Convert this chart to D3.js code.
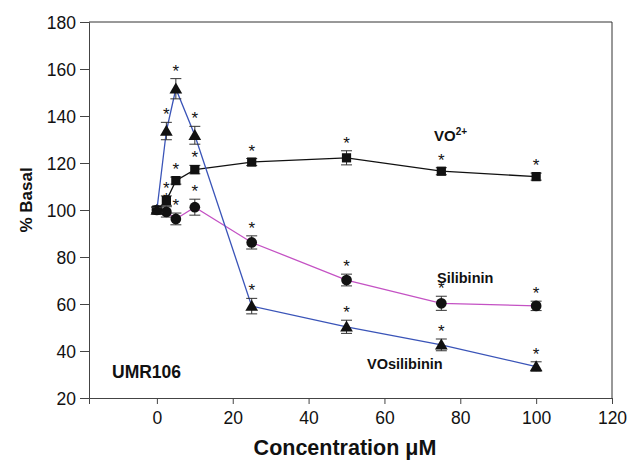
<!DOCTYPE html>
<html>
<head>
<meta charset="utf-8">
<script src="https://cdn.jsdelivr.net/npm/d3@7"></script>
<style>
  body { margin: 0; background: #fff; }
  svg text { font-family: "Liberation Sans", Arial, sans-serif; fill: #111; }
</style>
</head>
<body>
<script>
var conc = [0, 2.5, 5, 10, 25, 50, 75, 100];

var vo = [100, 104, 112.5, 117.2, 120.4, 122.2, 116.5, 114.2];
var voErr = [1.5, 2, 1.5, 1.8, 1.5, 3, 1.5, 1.5];

var sil = [100, 99.2, 96.2, 101.2, 86.2, 70.2, 60.3, 59.2];
var silErr = [1, 2.2, 2.5, 3.4, 2.8, 2.5, 3, 2];

var vosil = [100, 133.6, 151.6, 131.8, 59.1, 50.3, 42.6, 33.4];
var vosilErr = [1, 3.7, 4.3, 3.8, 3.3, 2.8, 2.5, 2];

var xTicks = [0, 20, 40, 60, 80, 100, 120];
var yTicks = [20, 40, 60, 80, 100, 120, 140, 160, 180];

var W = 632, H = 460;
var margin = { top: 22, right: 20, bottom: 62, left: 89 };

var x = d3.scaleLinear().domain([-17.9, 120]).range([margin.left, W - margin.right]);
var y = d3.scaleLinear().domain([20, 180]).range([H - margin.bottom, margin.top]);

var svg = d3.select("body").append("svg")
    .attr("width", W)
    .attr("height", H);

// frame (top and right)
svg.append("path")
    .attr("d", "M" + x(-17.9) + "," + y(180) + "H" + x(120) + "V" + y(20))
    .attr("fill", "none")
    .attr("stroke", "#333")
    .attr("stroke-width", 1);

var xAxis = svg.append("g")
    .attr("transform", "translate(0," + y(20) + ")")
    .call(d3.axisBottom(x).tickValues(xTicks).tickSize(6).tickPadding(8));
var yAxis = svg.append("g")
    .attr("transform", "translate(" + x(-17.9) + ",0)")
    .call(d3.axisLeft(y).tickValues(yTicks).tickSize(9).tickPadding(4));

[xAxis, yAxis].forEach(function (g) {
    g.selectAll("path, line").attr("stroke", "#444");
    g.selectAll("text").style("font-size", "17.5px").attr("fill", "#111");
});
yAxis.selectAll("text").attr("dy", "0.36em");

svg.append("text")
    .attr("x", 345).attr("y", 455)
    .attr("text-anchor", "middle")
    .style("font-size", "21.5px").style("font-weight", "bold")
    .text("Concentration \u03bcM");

svg.append("text")
    .attr("transform", "translate(32,200) rotate(-90)")
    .attr("text-anchor", "middle")
    .style("font-size", "17px").style("font-weight", "bold")
    .text("% Basal");

var series = [
    { name: "vo", values: vo, err: voErr, color: "#111", shape: d3.symbolSquare, size: 85 },
    { name: "sil", values: sil, err: silErr, color: "#c452c4", shape: d3.symbolCircle, size: 90 },
    { name: "vosil", values: vosil, err: vosilErr, color: "#3a54b8", shape: d3.symbolTriangle, size: 70 }
];

var line = d3.line()
    .x(function (d) { return x(d[0]); })
    .y(function (d) { return y(d[1]); });

series.forEach(function (s) {
    var pts = conc.map(function (c, i) { return [c, s.values[i], s.err[i]]; });
    var g = svg.append("g").attr("class", s.name);

    g.append("path")
        .datum(pts)
        .attr("d", line)
        .attr("fill", "none")
        .attr("stroke", s.color)
        .attr("stroke-width", 1.3);

    var eb = g.selectAll(".err").data(pts).enter().append("g");
    eb.append("line")
        .attr("x1", function (d) { return x(d[0]); })
        .attr("x2", function (d) { return x(d[0]); })
        .attr("y1", function (d) { return y(d[1] - d[2]); })
        .attr("y2", function (d) { return y(d[1] + d[2]); })
        .attr("stroke", "#333");
    [-1, 1].forEach(function (sg) {
        eb.append("line")
            .attr("x1", function (d) { return x(d[0]) - 5.5; })
            .attr("x2", function (d) { return x(d[0]) + 5.5; })
            .attr("y1", function (d) { return y(d[1] + sg * d[2]); })
            .attr("y2", function (d) { return y(d[1] + sg * d[2]); })
            .attr("stroke", "#333");
    });

    g.selectAll(".mark").data(pts).enter().append("path")
        .attr("d", d3.symbol().type(s.shape).size(s.size))
        .attr("transform", function (d) {
            var off = s.shape === d3.symbolTriangle ? 1 : 0;
            return "translate(" + x(d[0]) + "," + (y(d[1]) + off) + ")";
        })
        .attr("fill", "#111");

    g.selectAll(".star").data(pts.slice(1)).enter().append("text")
        .attr("x", function (d) { return x(d[0]); })
        .attr("y", function (d) { return y(d[1] + d[2]) - 2; })
        .attr("text-anchor", "middle")
        .style("font-size", "17px")
        .text("*");
});

var vLabel = svg.append("text")
    .attr("x", 434).attr("y", 141)
    .style("font-size", "15px").style("font-weight", "bold");
vLabel.append("tspan").text("VO");
vLabel.append("tspan").attr("dy", -6).style("font-size", "10px").text("2+");

svg.append("text")
    .attr("x", 437).attr("y", 283)
    .style("font-size", "14.5px").style("font-weight", "bold")
    .text("Silibinin");

svg.append("text")
    .attr("x", 367).attr("y", 369)
    .style("font-size", "14.5px").style("font-weight", "bold")
    .text("VOsilibinin");

svg.append("text")
    .attr("x", 112).attr("y", 378)
    .style("font-size", "17.5px").style("font-weight", "bold")
    .text("UMR106");
</script>
</body>
</html>
